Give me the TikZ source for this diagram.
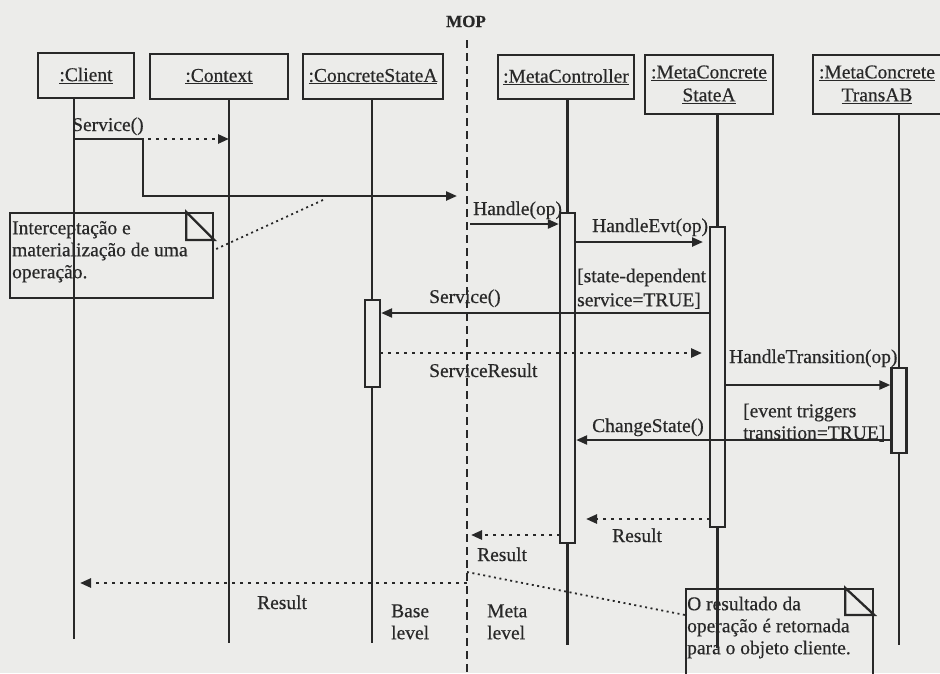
\documentclass[tikz,border=0pt]{standalone}
\usepackage{fontspec}
\setmainfont{Liberation Serif}[FakeBold=0.5]
\usetikzlibrary{arrows.meta}
\definecolor{ink}{HTML}{282828}
\definecolor{paper}{HTML}{ECECEA}
\begin{document}
\begin{tikzpicture}[x=1pt,y=-1pt,
  every node/.style={text=ink},
  objbox/.style={draw=ink, line width=2.5pt, fill=paper, inner sep=0pt,
    font=\fontsize{19.5}{23}\selectfont, align=center},
  life/.style={draw=ink, line width=2.3pt},
  actbar/.style={draw=ink, line width=2.3pt, fill=paper, inner sep=0pt, minimum width=15pt},
  msg/.style={draw=ink, line width=2.3pt, -{Triangle[length=11pt,width=9pt]}},
  ret/.style={msg, dash pattern=on 3pt off 5pt, line width=2.5pt},
  lbl/.style={inner sep=0pt, anchor=base west, font=\fontsize{19.5}{22}\selectfont},
  mlbl/.style={inner sep=0pt, anchor=north west, align=left, font=\fontsize{19.5}{22}\selectfont},
  notebox/.style={draw=ink, line width=2.3pt, inner sep=0pt, anchor=north west},
  foldline/.style={draw=ink, line width=2.3pt},
  notelink/.style={draw=ink, line width=1.8pt, dash pattern=on 2pt off 3.5pt},
  mopline/.style={draw=ink, line width=2.6pt, dash pattern=on 8pt off 5pt},
]
\fill[paper] (0,0) rectangle (940,673);
\useasboundingbox (0,0) rectangle (940,673);

% MOP boundary
\node[inner sep=0pt, anchor=base, font=\bfseries\fontsize{17}{20}\selectfont] (mopl) at (466,27) {MOP};
\coordinate (mopT) at (467,40);
\coordinate (mopB) at (467,673);
\draw[mopline] (mopT) -- (mopB);

% object boxes
\node[objbox, minimum width=96pt, minimum height=45pt] (client) at (86,75.5) {\underline{:Client}};
\node[objbox, minimum width=138pt, minimum height=45pt] (context) at (219,76.5) {\underline{:Context}};
\node[objbox, minimum width=140pt, minimum height=45pt] (csa) at (373,76.5) {\underline{:ConcreteStateA}};
\node[objbox, minimum width=136pt, minimum height=44pt] (mctl) at (566,77) {\underline{:MetaController}};
\node[objbox, minimum width=128pt, minimum height=59pt] (mcsa) at (709,84.5) {\underline{:MetaConcrete}\\\underline{StateA}};
\node[objbox, minimum width=128pt, minimum height=59pt] (mtab) at (877,84.5) {\underline{:MetaConcrete}\\\underline{TransAB}};

% lifelines
\coordinate (clB) at (74,639);
\coordinate (ctB) at (229,643);
\coordinate (csB) at (372,643);
\coordinate (mcB) at (567.5,645);
\coordinate (saB) at (717.5,648);
\coordinate (tbB) at (899,645);
\draw[life] (client.south -| clB) -- (clB);
\draw[life] (context.south -| ctB) -- (ctB);
\draw[life] (csa.south -| csB) -- (csB);
\draw[life] (mctl.south -| mcB) -- (mcB);
\draw[life] (mcsa.south -| saB) -- (saB);
\draw[life] (mtab.south -| tbB) -- (tbB);

% activation bars
\node[actbar, minimum height=87pt] (actCS) at (372.5,343.5) {};
\node[actbar, minimum height=330pt] (actMC) at (567.5,378) {};
\node[actbar, minimum height=300pt] (actSA) at (717.5,377) {};
\node[actbar, minimum height=85pt] (actTB) at (899,410.5) {};

% notes
\node[notebox, minimum width=203pt, minimum height=85pt] (n1) at (9,212) {};
\draw[foldline] ([xshift=-28pt]n1.north east) |- ([yshift=-28pt]n1.north east) -- cycle;
\node[mlbl] (n1t) at (12,218.6) {\strut Interceptação e\\materialização de uma\\operação.};

\node[notebox, minimum width=187pt, minimum height=100pt] (n2) at (685,588) {};
\draw[foldline] ([xshift=-29pt]n2.north east) |- ([yshift=-27pt]n2.north east) -- cycle;
\node[mlbl] (n2t) at (687,594.6) {\strut O resultado da\\operação é retornada\\para o objeto cliente.};

% note links
\coordinate (l1a) at (323,200);
\coordinate (l1b) at (214,250);
\draw[notelink] (l1a) -- (l1b);
\coordinate (l2a) at (467,572);
\coordinate (l2b) at (685,615);
\draw[notelink] (l2a) -- (l2b);

% messages
\coordinate (a1s) at (74,139);
\coordinate (a1k) at (143,196);
\coordinate (a1e) at (457,196);
\draw[msg] (a1s) -| (a1k) -- (a1e);

\coordinate (a2s) at (148,139);
\draw[ret] (a2s) -- (a2s -| ctB);

\coordinate (a3s) at (470,224);
\draw[msg] (a3s) -- (a3s -| actMC.west);

\coordinate (a4s) at (575,242);
\coordinate (a4e) at (703,242);
\draw[msg] (a4s) -- (a4e);

\coordinate (a5s) at (710,313);
\draw[msg] (a5s) -- (a5s -| actCS.east);

\coordinate (a6s) at (380,353);
\coordinate (a6e) at (702,353);
\draw[ret] (a6s) -- (a6e);

\coordinate (a7s) at (725,385);
\draw[msg] (a7s) -- (a7s -| actTB.west);

\coordinate (a8s) at (891.5,440);
\draw[msg] (a8s) -- (a8s -| actMC.east);

\coordinate (a9s) at (710,519);
\coordinate (a9e) at (586,519);
\draw[ret] (a9s) -- (a9e);

\coordinate (a10s) at (560,535);
\coordinate (a10e) at (471,535);
\draw[ret] (a10s) -- (a10e);

\coordinate (a11s) at (467,583);
\coordinate (a11e) at (80,583);
\draw[ret] (a11s) -- (a11e);

% labels
\node[lbl] (lS1) at (72,131) {Service()};
\node[lbl] (lH) at (473,215) {Handle(op)};
\node[lbl] (lHE) at (592,232) {HandleEvt(op)};
\node[mlbl, font=\fontsize{19.5}{24}\selectfont] (lSD) at (577,265.2) {\strut[state-dependent\\service=TRUE]};
\node[lbl] (lS2) at (429,303) {Service()};
\node[lbl] (lSR) at (429,377) {ServiceResult};
\node[lbl] (lHT) at (729,363) {HandleTransition(op)};
\node[mlbl] (lET) at (743,401.6) {\strut[event triggers\\transition=TRUE]};
\node[lbl] (lCS) at (592,432) {ChangeState()};
\node[lbl] (lR1) at (612,542) {Result};
\node[lbl] (lR2) at (477,561) {Result};
\node[lbl] (lR3) at (257,609) {Result};
\node[mlbl] (lBL) at (391,601.6) {\strut Base\\level};
\node[mlbl] (lML) at (487,601.6) {\strut Meta\\level};
\end{tikzpicture}
\end{document}
